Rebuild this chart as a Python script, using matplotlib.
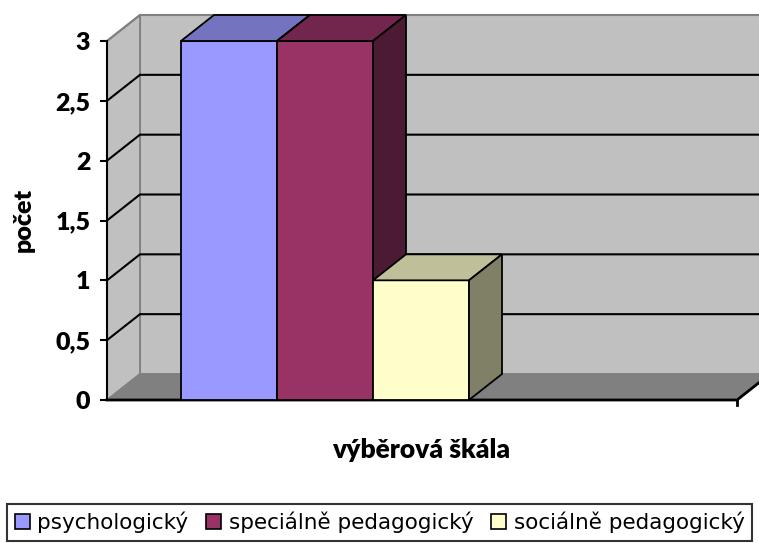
import matplotlib
matplotlib.use("Agg")
import matplotlib.pyplot as plt
from matplotlib.patches import Polygon, Patch

# ---- data ----
categories = ["psychologický", "speciálně pedagogický", "sociálně pedagogický"]
values = [3, 3, 1]
y_ticks = [0, 0.5, 1, 1.5, 2, 2.5, 3]
y_tick_labels = ["0", "0,5", "1", "1,5", "2", "2,5", "3"]
y_label = "počet"
x_label = "výběrová škála"

front_colors = ["#9999FF", "#993366", "#FFFFCC"]
top_colors = ["#7373BF", "#73264D", "#BFBF99"]
side_colors = ["#4D4D80", "#4D1A33", "#808066"]

FONT = ["Lato", "DejaVu Sans"]
plt.rcParams["font.family"] = FONT

W, H = 759, 543
fig = plt.figure(figsize=(W / 100, H / 100), dpi=100)
fig.patch.set_facecolor("white")

# front plane of the plot area (pixels)
ax_l, ax_r, ax_t, ax_b = 107, 737, 41, 400
ax = fig.add_axes([ax_l / W, 1 - ax_b / H, (ax_r - ax_l) / W, (ax_b - ax_t) / H])
ax.patch.set_visible(False)

bar_w = 1.0
px_per_x = 96.0
x0 = -0.5 - 74 / px_per_x
x1 = x0 + (ax_r - ax_l) / px_per_x
ymin, ymax = 0, 3
ax.set_xlim(x0, x1)
ax.set_ylim(ymin, ymax)

px_per_y = (ax_b - ax_t) / (ymax - ymin)
dx = 33 / px_per_x
dy = 26 / px_per_y

def poly(pts, fc, ec="black", lw=1.3, z=1):
    p = Polygon(pts, closed=True, facecolor=fc, edgecolor=ec, linewidth=lw,
                zorder=z, clip_on=False, joinstyle="miter")
    ax.add_patch(p)

# back wall
poly([(x0 + dx, ymin + dy), (x1 + dx, ymin + dy), (x1 + dx, ymax + dy), (x0 + dx, ymax + dy)],
     "#C0C0C0", ec="#808080", lw=1.3, z=1)
# left wall
poly([(x0, ymin), (x0 + dx, ymin + dy), (x0 + dx, ymax + dy), (x0, ymax)],
     "#C0C0C0", ec="#808080", lw=1.3, z=1)
# floor
poly([(x0, ymin), (x1, ymin), (x1 + dx, ymin + dy), (x0 + dx, ymin + dy)],
     "#808080", ec="#808080", lw=1.0, z=1.1)

# gridlines
for v in y_ticks[1:]:
    col = "#808080" if v == ymax else "black"
    ax.plot([x0, x0 + dx, x1 + dx], [v, v + dy, v + dy], color=col, lw=1.5,
            zorder=2, clip_on=False, solid_joinstyle="miter")

# floor front/right edges
ax.plot([x0, x1, x1 + dx], [ymin, ymin, ymin + dy], color="black", lw=2, zorder=2.5, clip_on=False)
ax.plot([x1, x1], [ymin, ymin - 5 / px_per_y], color="black", lw=2, zorder=2.5, clip_on=False)
# y axis line
ax.plot([x0, x0], [ymin, ymax], color="black", lw=1.5, zorder=2.5, clip_on=False)

# bars
for i, v in enumerate(values):
    l = i - bar_w / 2
    r = i + bar_w / 2
    z = 3 + i
    poly([(l, 0), (r, 0), (r, v), (l, v)], front_colors[i], z=z)
    poly([(l, v), (r, v), (r + dx, v + dy), (l + dx, v + dy)], top_colors[i], z=z)
    poly([(r, 0), (r + dx, dy), (r + dx, v + dy), (r, v)], side_colors[i], z=z)

for s in ax.spines.values():
    s.set_visible(False)
ax.set_xticks([])
ax.set_yticks(y_ticks, labels=y_tick_labels, fontsize=18, fontweight="heavy")
ax.tick_params(axis="y", direction="out", length=5, width=1.5, pad=7)

fig.text(24 / W, 1 - 220 / H, y_label, rotation=90, ha="center", va="center",
         fontsize=18, fontweight="heavy")
fig.text(421 / W, 1 - 450 / H, x_label, ha="center", va="center",
         fontsize=19, fontweight="heavy")

handles = [Patch(facecolor=c, edgecolor="black", linewidth=1.2) for c in front_colors]
leg = fig.legend(handles, categories, loc="lower left",
                 bbox_to_anchor=(7 / W, 1 - 541 / H, 745 / W, 37 / H),
                 mode="expand", ncol=3, frameon=True, fancybox=False, edgecolor="black",
                 prop={"family": ["DejaVu Sans"], "size": 15.5},
                 handlelength=0.7, handleheight=0.7, handletextpad=0.35,
                 columnspacing=0.4, borderpad=0.35, borderaxespad=0)
leg.get_frame().set_linewidth(1.5)

fig.savefig("out.png", dpi=100)
